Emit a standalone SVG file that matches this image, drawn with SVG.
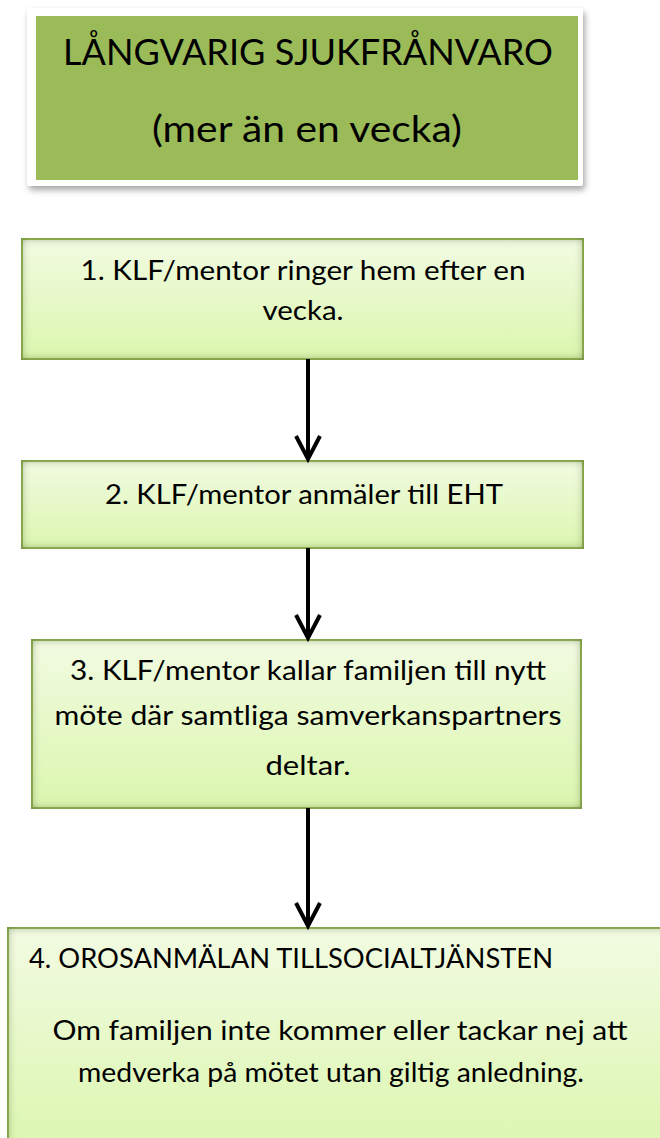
<svg xmlns="http://www.w3.org/2000/svg" width="660" height="1138" viewBox="0 0 660 1138">
<style>
  text { font-family: Lato, "Open Sans", "Liberation Sans", sans-serif; fill: #000; }
  .title { font-size: 36px; text-anchor: middle; }
  .body { font-size: 26px; text-anchor: middle; }
  .left { font-size: 26px; text-anchor: start; }
  .box { fill: url(#boxGrad); stroke: #9bbb59; stroke-width: 2; filter: url(#inset); }
  .conn { stroke: #000; stroke-width: 4; fill: none; marker-end: url(#chev); }
</style>
<defs>
  <linearGradient id="boxGrad" x1="0" y1="0" x2="0" y2="1">
    <stop offset="0" stop-color="#f2fbe2"/>
    <stop offset="1" stop-color="#dbf6ae"/>
  </linearGradient>
  <filter id="inset" x="-5%" y="-10%" width="110%" height="120%">
    <feFlood flood-color="#5f7a30" flood-opacity="0.9"/>
    <feComposite in2="SourceAlpha" operator="out"/>
    <feGaussianBlur stdDeviation="5"/>
    <feComposite in2="SourceAlpha" operator="in" result="sh"/>
    <feMerge><feMergeNode in="SourceGraphic"/><feMergeNode in="sh"/></feMerge>
  </filter>
  <filter id="drop" x="-5%" y="-10%" width="115%" height="130%">
    <feGaussianBlur in="SourceAlpha" stdDeviation="3"/>
    <feOffset dx="2" dy="4" result="b"/>
    <feFlood flood-color="#000" flood-opacity="0.35"/>
    <feComposite in2="b" operator="in"/>
    <feMerge><feMergeNode/><feMergeNode in="SourceGraphic"/></feMerge>
  </filter>
  <marker id="chev" markerUnits="userSpaceOnUse" markerWidth="40" markerHeight="40" viewBox="-30 -20 40 40" refX="0" refY="0" orient="auto">
    <path d="M-23,-12 L0,0 L-23,12" fill="none" stroke="#000" stroke-width="4" stroke-linejoin="miter"/>
  </marker>
</defs>

<g id="title">
  <rect x="27" y="8" width="556" height="178" rx="3" fill="#fff" filter="url(#drop)"/>
  <rect x="36" y="16" width="542" height="164" fill="#9bbb59"/>
  <text class="title" x="308" y="65" textLength="490" lengthAdjust="spacingAndGlyphs">LÅNGVARIG SJUKFRÅNVARO</text>
  <text class="title" x="307" y="142" textLength="310" lengthAdjust="spacingAndGlyphs">(mer än en vecka)</text>
</g>

<g id="step1">
  <rect class="box" x="22" y="239" width="561" height="120"/>
  <text class="body" x="303" y="280" textLength="445" lengthAdjust="spacingAndGlyphs">1. KLF/mentor ringer hem efter en</text>
  <text class="body" x="303" y="320" textLength="81" lengthAdjust="spacingAndGlyphs">vecka.</text>
</g>

<g id="step2">
  <rect class="box" x="22" y="461" width="561" height="87"/>
  <text class="body" x="304" y="504" textLength="398" lengthAdjust="spacingAndGlyphs">2. KLF/mentor anmäler till EHT</text>
</g>

<g id="step3">
  <rect class="box" x="32" y="640" width="549" height="168"/>
  <text class="body" x="308" y="680" textLength="476" lengthAdjust="spacingAndGlyphs">3. KLF/mentor kallar familjen till nytt</text>
  <text class="body" x="308" y="725" textLength="507" lengthAdjust="spacingAndGlyphs">möte där samtliga samverkanspartners</text>
  <text class="body" x="308" y="775" textLength="85" lengthAdjust="spacingAndGlyphs">deltar.</text>
</g>

<g id="step4">
  <rect class="box" x="8" y="928" width="670" height="230"/>
  <text class="left" x="29" y="968" textLength="524" lengthAdjust="spacingAndGlyphs">4. OROSANMÄLAN TILLSOCIALTJÄNSTEN</text>
  <text class="body" x="340" y="1040" textLength="575" lengthAdjust="spacingAndGlyphs">Om familjen inte kommer eller tackar nej att</text>
  <text class="body" x="331" y="1082" textLength="506" lengthAdjust="spacingAndGlyphs">medverka på mötet utan giltig anledning.</text>
</g>

<g id="connectors">
  <path class="conn" d="M308,359 V459"/>
  <path class="conn" d="M308,548 V638"/>
  <path class="conn" d="M308,808 V926"/>
</g>
</svg>
